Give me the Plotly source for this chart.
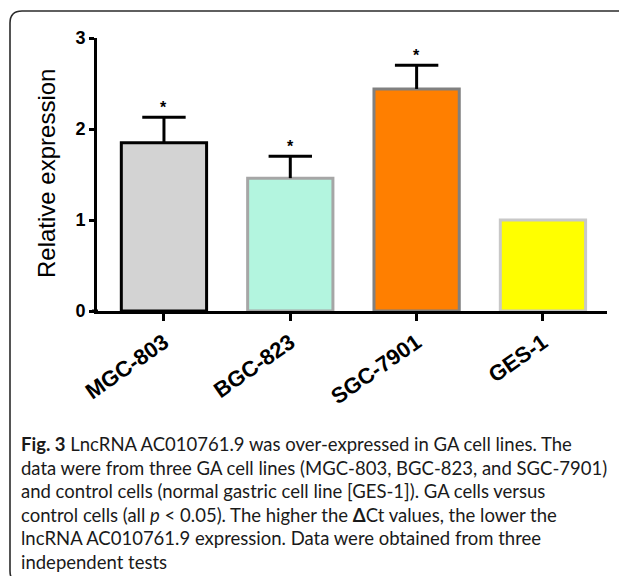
import plotly.graph_objects as go

# ---- data ----
categories = ["MGC-803", "BGC-823", "SGC-7901", "GES-1"]
values = [1.85, 1.46, 2.44, 1.00]
errors = [0.28, 0.24, 0.26, None]
significance = ["*", "*", "*", ""]
fill_colors = ["#D3D3D3", "#B3F5DF", "#FF7F00", "#FFFF00"]
edge_colors = ["#000000", "#A6A6A6", "#808080", "#C8C8C8"]
y_ticks = [0, 1, 2, 3]
caption_lines = [
    "<b>Fig. 3</b> LncRNA AC010761.9 was over-expressed in GA cell lines. The",
    "data were from three GA cell lines (MGC-803, BGC-823, and SGC-7901)",
    "and control cells (normal gastric cell line [GES-1]). GA cells versus",
    "control cells (all <i>p</i> &lt; 0.05). The higher the <b>Δ</b>Ct values, the lower the",
    "lncRNA AC010761.9 expression. Data were obtained from three",
    "independent tests",
]

# ---- geometry (page pixels; the page body has an 8px margin) ----
OFF = 8
W, H = 627 - OFF, 576 - OFF
PL, PR, PT, PB = 97, 607, 38, 311  # plot area in page pixels
pw, ph = PR - PL, PB - PT


def px(x):
    return (x - PL) / pw


def py(y):
    return (PB - y) / ph


AX = "Arial, Liberation Sans, sans-serif"

fig = go.Figure()

fig.add_trace(go.Bar(
    x=categories, y=values,
    marker=dict(color=fill_colors, line=dict(color=edge_colors, width=3)),
    showlegend=False, hoverinfo="skip",
))

err_cats = [c for c, e in zip(categories, errors) if e is not None]
err_tops = [v + e for v, e in zip(values, errors) if e is not None]
err_vals = [e for e in errors if e is not None]
err_marks = [s for s, e in zip(significance, errors) if e is not None]

# error stems + caps
fig.add_trace(go.Scatter(
    x=err_cats, y=err_tops, mode="markers",
    marker=dict(symbol="line-ew", size=31, line=dict(color="black", width=3)),
    error_y=dict(type="data", symmetric=False, array=[0] * len(err_vals),
                 arrayminus=err_vals, width=0, thickness=3, color="black"),
    showlegend=False, hoverinfo="skip", cliponaxis=False,
))

shapes = []
# x-axis line extension to the left of y-axis
shapes.append(dict(type="line", xref="paper", yref="paper",
                   x0=px(92), x1=px(98), y0=0, y1=0,
                   line=dict(color="black", width=3)))
# rounded frame
L, T, R, B, r = 10, 11, 637, 583, 12
path = (f"M {px(L)},{py(T + r)} Q {px(L)},{py(T)} {px(L + r)},{py(T)} "
        f"L {px(R - r)},{py(T)} Q {px(R)},{py(T)} {px(R)},{py(T + r)} "
        f"L {px(R)},{py(B - r)} Q {px(R)},{py(B)} {px(R - r)},{py(B)} "
        f"L {px(L + r)},{py(B)} Q {px(L)},{py(B)} {px(L)},{py(B - r)} Z")
shapes.append(dict(type="path", xref="paper", yref="paper", path=path,
                   line=dict(color="#2b2b2b", width=1.6)))

annotations = [dict(
    text="Relative expression", xref="paper", yref="paper",
    x=px(46), y=py(174), textangle=-90, showarrow=False,
    font=dict(family=AX, size=24, color="black"),
    xanchor="center", yanchor="middle",
)]

# significance asterisks above the error caps
for c, t, m in zip(err_cats, err_tops, err_marks):
    annotations.append(dict(
        x=c, y=t, xref="x", yref="y", text=m, showarrow=False,
        yshift=10, yanchor="middle", xanchor="center",
        font=dict(family=AX, size=16, color="black", weight="bold"),
    ))

cap_y0, cap_dy = 444, 23.6
for i, line in enumerate(caption_lines):
    annotations.append(dict(
        text=line, xref="paper", yref="paper",
        x=px(19), y=py(cap_y0 + i * cap_dy), xanchor="left", yanchor="middle",
        showarrow=False, align="left",
        font=dict(family="Lato, sans-serif", size=18.5, color="#1a1a1a"),
    ))

fig.update_layout(
    width=W, height=H,
    margin=dict(l=PL - OFF, r=W - (PR - OFF), t=PT - OFF, b=H - (PB - OFF)),
    paper_bgcolor="white", plot_bgcolor="white",
    bargap=0.325,
    shapes=shapes, annotations=annotations,
    xaxis=dict(
        type="category", range=[-0.53, 3.507],
        showline=True, linecolor="black", linewidth=3,
        ticks="outside", ticklen=7, tickwidth=3, tickcolor="black",
        tickangle=-35, showgrid=False, zeroline=False,
        tickfont=dict(family=AX, size=22, color="black", weight="bold"),
    ),
    yaxis=dict(
        range=[0, 3], tickvals=y_ticks,
        showline=True, linecolor="black", linewidth=3,
        ticks="outside", ticklen=5, tickwidth=3, tickcolor="black",
        showgrid=False, zeroline=False,
        tickfont=dict(family=AX, size=18, color="black", weight="bold"),
    ),
)

fig.write_html("out.html")
